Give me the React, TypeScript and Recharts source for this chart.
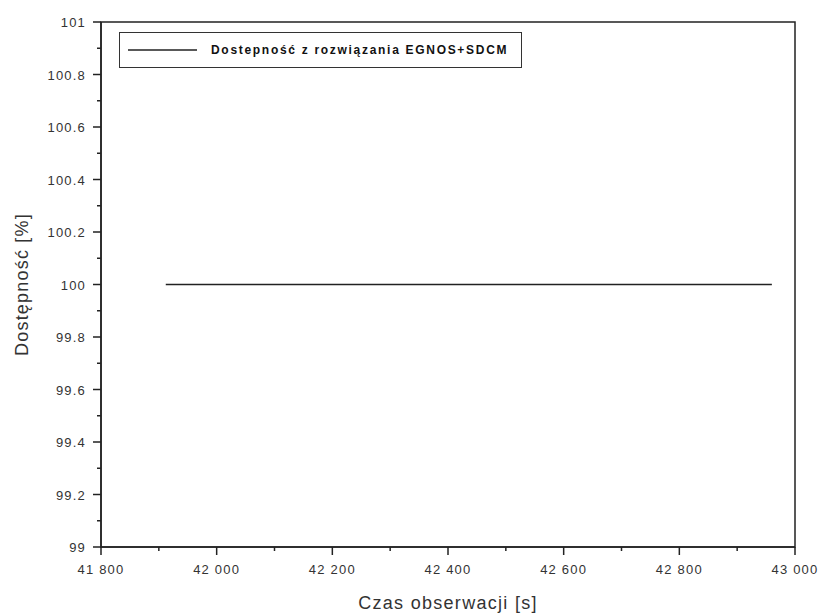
import { LineChart, Line, XAxis, YAxis, Label, Legend, ReferenceArea } from 'recharts';

const timeSec = [41912, 42960];
const availability = [100, 100];

const xTicks = [41800, 41900, 42000, 42100, 42200, 42300, 42400, 42500, 42600, 42700, 42800, 42900, 43000];
const xMajor = [41800, 42000, 42200, 42400, 42600, 42800, 43000];
const yTicks = [99, 99.1, 99.2, 99.3, 99.4, 99.5, 99.6, 99.7, 99.8, 99.9, 100, 100.1, 100.2, 100.3, 100.4, 100.5, 100.6, 100.7, 100.8, 100.9, 101];
const yMajor = [99, 99.2, 99.4, 99.6, 99.8, 100, 100.2, 100.4, 100.6, 100.8, 101];

const seriesName = 'Dostepność z rozwiązania EGNOS+SDCM';

const chartData = timeSec.map((t, i) => ({ t, v: availability[i] }));

const FONT = '"Liberation Sans", Arial, sans-serif';
const INK = '#222';

const fmtX = (v: number) => `${Math.floor(v / 1000)} ${String(v % 1000).padStart(3, '0')}`;
const isMajorY = (v: number) => yMajor.some((m) => Math.abs(m - v) < 1e-6);

function XTick({ x, y, payload }: any) {
  const major = xMajor.includes(payload.value);
  return (
    <g>
      <line x1={x} x2={x} y1={y} y2={y + (major ? 8 : 4)} stroke={INK} strokeWidth={1.5} />
      {major && (
        <text x={x} y={y + 27} textAnchor="middle" fontSize={13} letterSpacing={1.2} fill="#333" fontFamily={FONT}>
          {fmtX(payload.value)}
        </text>
      )}
    </g>
  );
}

function YTick({ x, y, payload }: any) {
  const major = isMajorY(payload.value);
  return (
    <g>
      <line x1={x - (major ? 8 : 4)} x2={x} y1={y} y2={y} stroke={INK} strokeWidth={1.5} />
      {major && (
        <text x={x - 15} y={y + 5} textAnchor="end" fontSize={13} letterSpacing={1.2} fill="#333" fontFamily={FONT}>
          {String(Math.round(payload.value * 10) / 10)}
        </text>
      )}
    </g>
  );
}

function LegendBox({ payload }: any) {
  return (
    <div
      style={{
        width: 403,
        height: 36,
        border: '1.5px solid #333',
        boxSizing: 'border-box',
        display: 'flex',
        alignItems: 'center',
        background: '#fff',
        fontFamily: FONT,
      }}
    >
      {(payload || []).map((p: any) => (
        <div key={p.value} style={{ display: 'flex', alignItems: 'center' }}>
          <svg width={80} height={10} style={{ marginLeft: 8 }}>
            <line x1={0} x2={69} y1={5} y2={5} stroke={INK} strokeWidth={1.3} />
          </svg>
          <span style={{ fontSize: 12, fontWeight: 'bold', letterSpacing: 1.7, color: '#111', marginLeft: 3 }}>{p.value}</span>
        </div>
      ))}
    </div>
  );
}

export default function App() {
  return (
    <div style={{ position: 'absolute', left: 0, top: 0, background: '#fff' }}>
      <LineChart width={821} height={615} data={chartData} margin={{ top: 22, right: 26, left: 0, bottom: 0 }}>
        <XAxis
          dataKey="t"
          type="number"
          domain={[41800, 43000]}
          ticks={xTicks}
          interval={0}
          allowDataOverflow
          height={68}
          tickSize={0}
          tickMargin={0}
          axisLine={{ stroke: INK, strokeWidth: 1.5 }}
          tick={<XTick />}
        >
          <Label
            value="Czas obserwacji [s]"
            position="insideBottom"
            offset={6}
            style={{ fontSize: 18, letterSpacing: 1.3, fill: '#333', fontFamily: FONT }}
          />
        </XAxis>
        <YAxis
          type="number"
          domain={[99, 101]}
          ticks={yTicks}
          interval={0}
          allowDataOverflow
          width={101}
          tickSize={0}
          tickMargin={0}
          axisLine={{ stroke: INK, strokeWidth: 1.5 }}
          tick={<YTick />}
        >
          <Label
            value="Dostępność [%]"
            angle={-90}
            position="insideLeft"
            offset={22}
            style={{ fontSize: 18, letterSpacing: 1.2, fill: '#333', fontFamily: FONT, textAnchor: 'middle' }}
          />
        </YAxis>
        <ReferenceArea x1={41800} x2={43000} y1={99} y2={101} fill="none" stroke={INK} strokeWidth={1.5} />
        <Legend
          layout="horizontal"
          verticalAlign="middle"
          align="center"
          content={<LegendBox />}
          wrapperStyle={{ left: 119, top: 32, width: 'auto' }}
        />
        <Line
          type="linear"
          dataKey="v"
          name={seriesName}
          stroke={INK}
          strokeWidth={1.5}
          dot={false}
          isAnimationActive={false}
        />
      </LineChart>
    </div>
  );
}
